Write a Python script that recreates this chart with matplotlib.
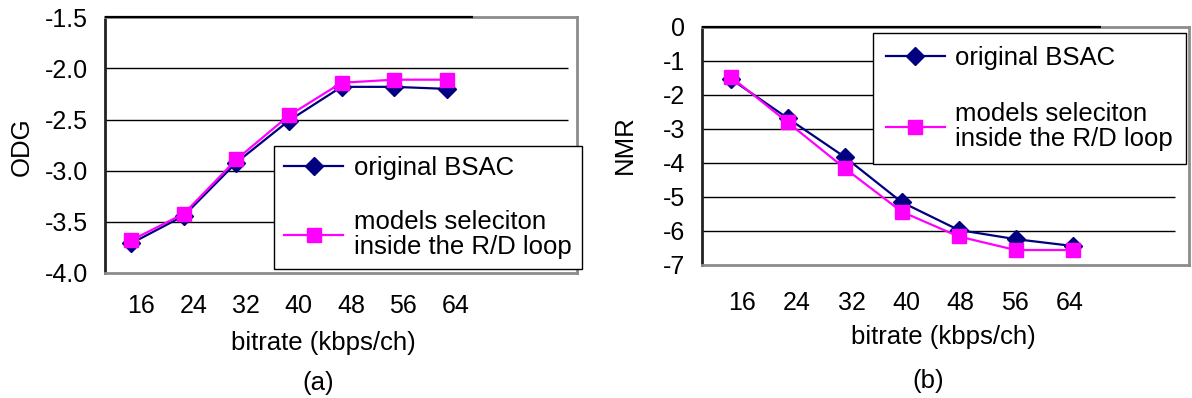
import matplotlib
matplotlib.use("Agg")
import matplotlib.pyplot as plt
from matplotlib.ticker import FormatStrFormatter

plt.rcParams['font.family'] = ['Liberation Sans', 'DejaVu Sans']
plt.rcParams['axes.unicode_minus'] = False

# bitrates shared by both panels
bitrates = ['16', '24', '32', '40', '48', '56', '64']

# (a) objective difference grade
odg_bsac = [-3.71, -3.44, -2.92, -2.51, -2.18, -2.18, -2.20]
odg_rd = [-3.68, -3.42, -2.89, -2.46, -2.14, -2.11, -2.11]

# (b) noise-to-mask ratio
nmr_bsac = [-1.52, -2.68, -3.82, -5.15, -5.97, -6.24, -6.44]
nmr_rd = [-1.46, -2.80, -4.15, -5.43, -6.16, -6.56, -6.56]

label_bsac = 'original BSAC'
label_rd = 'models seleciton\ninside the R/D loop'

W, H = 1192, 398
fig = plt.figure(figsize=(W / 100, H / 100), dpi=100)


def px(x0, y0, x1, y1):
    # pixel box -> figure fraction rect
    return [x0 / W, 1 - y1 / H, (x1 - x0) / W, (y1 - y0) / H]


def panel(rect, xmax, grid_end, ylim, yticks, fmt, s1, s2, leg_xy,
          lab_shift, lab_step, xpad, lspace, bpad):
    ax = fig.add_axes(rect)
    x = list(range(len(bitrates)))
    ax.set_xlim(-0.5, xmax)
    ax.set_ylim(*ylim)

    # gridlines stop short of the right border
    for yv in yticks[1:-1]:
        ax.hlines(yv, -0.5, grid_end, color='black', lw=1.0, zorder=1)
    # the value axis top line covers only the category range
    ax.hlines(ylim[1], -0.5, len(bitrates) - 0.5, color='black', lw=1.6,
              zorder=3, clip_on=False)

    for name, sp in ax.spines.items():
        sp.set_color('#8c8c8c')
        sp.set_linewidth(2.0)
    ax.spines['left'].set_color('#222222')

    ax.plot(x, s1, color='#000080', lw=1.6, marker='D', ms=9,
            label=label_bsac, zorder=4)
    ax.plot(x, s2, color='#ff00ff', lw=1.6, marker='s', ms=10,
            label=label_rd, zorder=5)

    # category labels sit a little right of the data points
    ax.set_xticks([lab_shift + lab_step * i for i in x])
    ax.set_xticklabels(bitrates, fontsize=18)
    ax.set_yticks(yticks)
    ax.yaxis.set_major_formatter(FormatStrFormatter(fmt))
    ax.tick_params(axis='y', labelsize=18, length=0, pad=12)
    ax.tick_params(axis='x', length=0, pad=xpad)

    leg = ax.legend(loc='upper left',
                    bbox_to_anchor=(leg_xy[0] / W, 1 - leg_xy[1] / H),
                    bbox_transform=fig.transFigure,
                    fontsize=18.5, frameon=True, fancybox=False, framealpha=1,
                    edgecolor='black', handlelength=2.3, handletextpad=0.4,
                    labelspacing=lspace, borderpad=bpad, borderaxespad=0)
    leg.get_frame().set_linewidth(1.0)
    for t in leg.get_texts():
        t.set_linespacing(1.05)
    return ax


panel(px(105, 17.3, 577, 273), 8.48, 8.3, (-4.0, -1.5),
      [-4.0, -3.5, -3.0, -2.5, -2.0, -1.5], '%.1f',
      odg_bsac, odg_rd, (274, 146), 0.19, 0.997, 15, 1.15, 0.4)
panel(px(702, 27, 1189, 265), 8.04, 7.79, (-7, 0),
      [-7, -6, -5, -4, -3, -2, -1, 0], '%d',
      nmr_bsac, nmr_rd, (873, 33), 0.21, 0.957, 19, 1.25, 0.5)

fig.text(22 / W, 1 - 147 / H, 'ODG', rotation=90, fontsize=18.5,
         ha='center', va='center')
fig.text(625 / W, 1 - 145 / H, 'NMR', rotation=90, fontsize=18.5,
         ha='center', va='center')
fig.text(323 / W, 1 - 343 / H, 'bitrate (kbps/ch)', fontsize=18.5,
         ha='center', va='center')
fig.text(943 / W, 1 - 337 / H, 'bitrate (kbps/ch)', fontsize=18.5,
         ha='center', va='center')
fig.text(318 / W, 1 - 383 / H, '(a)', fontsize=18.5, ha='center', va='center')
fig.text(928 / W, 1 - 381 / H, '(b)', fontsize=18.5, ha='center', va='center')

fig.savefig('out.png', dpi=100)
